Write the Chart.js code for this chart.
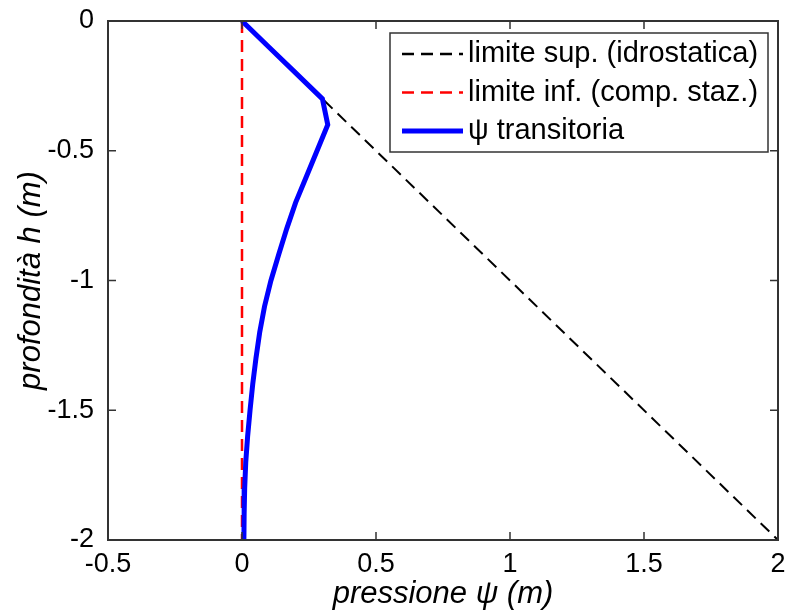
<!DOCTYPE html>
<html>
<head>
<meta charset="utf-8">
<script src="https://cdn.jsdelivr.net/npm/chart.js@4/dist/chart.umd.min.js"></script>
<style>
  html, body { margin: 0; padding: 0; background: #fff; }
  #wrap { width: 787px; height: 612px; }
</style>
</head>
<body>
<div id="wrap"><canvas id="profileChart"></canvas></div>
<script>
// pressure profile vs depth
const depth = [0, -0.1, -0.2, -0.3, -0.4, -0.5, -0.6, -0.7, -0.8, -0.9, -1.0,
               -1.1, -1.2, -1.3, -1.4, -1.5, -1.6, -1.7, -1.8, -1.9, -2.0];
const psiTransient = [0, 0.10, 0.20, 0.30, 0.32, 0.28, 0.24, 0.20, 0.167, 0.137, 0.108,
                      0.084, 0.066, 0.052, 0.040, 0.030, 0.021, 0.014, 0.010, 0.008, 0.007];

// hydrostatic upper limit and steady-state lower limit
const hydroDepth = [0, -2];
const hydroPsi = [0, 2];
const steadyDepth = [0, -2];
const steadyPsi = [0, 0];

const xTicks = [-0.5, 0, 0.5, 1, 1.5, 2];
const yTicks = [0, -0.5, -1, -1.5, -2];

const labels = ['limite sup. (idrostatica)', 'limite inf. (comp. staz.)', '\u03c8 transitoria'];

const FONT = '"Liberation Sans", Arial, Helvetica, sans-serif';

function toPoints(xs, ys) {
    return xs.map((x, i) => ({ x: x, y: ys[i] }));
}

// box around the plot area with inward ticks on all four sides
const boxPlugin = {
    id: 'boxPlugin',
    afterDatasetsDraw(chart) {
        const { ctx, chartArea: a, scales } = chart;
        const len = 8;
        ctx.save();
        ctx.strokeStyle = '#333';
        ctx.lineWidth = 1.5;
        ctx.beginPath();
        xTicks.forEach(v => {
            const px = scales.x.getPixelForValue(v);
            ctx.moveTo(px, a.bottom); ctx.lineTo(px, a.bottom - len);
            ctx.moveTo(px, a.top); ctx.lineTo(px, a.top + len);
        });
        yTicks.forEach(v => {
            const py = scales.y.getPixelForValue(v);
            ctx.moveTo(a.left, py); ctx.lineTo(a.left + len, py);
            ctx.moveTo(a.right, py); ctx.lineTo(a.right - len, py);
        });
        ctx.stroke();
        ctx.lineWidth = 2;
        ctx.strokeRect(a.left, a.top, a.right - a.left, a.bottom - a.top);
        ctx.restore();
    }
};

// legend drawn inside the top right corner
const legendPlugin = {
    id: 'legendPlugin',
    afterDraw(chart) {
        const { ctx } = chart;
        const box = { x: 390, y: 33, w: 378, h: 119 };
        ctx.save();
        ctx.fillStyle = '#fff';
        ctx.fillRect(box.x, box.y, box.w, box.h);
        ctx.strokeStyle = '#333';
        ctx.lineWidth = 1.5;
        ctx.strokeRect(box.x, box.y, box.w, box.h);
        ctx.font = '29px ' + FONT;
        ctx.textBaseline = 'middle';
        ctx.fillStyle = '#000';
        chart.data.datasets.forEach((ds, i) => {
            const cy = box.y + 21 + i * 38.5;
            ctx.strokeStyle = ds.borderColor;
            ctx.lineWidth = ds.legendWidth;
            ctx.setLineDash(ds.borderDash || []);
            ctx.beginPath();
            ctx.moveTo(402, cy);
            ctx.lineTo(463, cy);
            ctx.stroke();
            ctx.setLineDash([]);
            ctx.fillText(ds.label, 468, cy);
        });
        ctx.restore();
    }
};

// keep tick labels from shrinking the plot area
function noEdgePadding(s) {
    s.paddingLeft = 0;
    s.paddingRight = 0;
    s.paddingTop = 0;
    s.paddingBottom = 0;
}

new Chart(document.getElementById('profileChart'), {
    type: 'scatter',
    data: {
        datasets: [
            {
                label: labels[0],
                data: toPoints(hydroPsi, hydroDepth),
                showLine: true,
                borderColor: '#000',
                borderWidth: 2,
                borderDash: [12, 7],
                legendWidth: 2.5,
                pointRadius: 0,
                order: 3
            },
            {
                label: labels[1],
                data: toPoints(steadyPsi, steadyDepth),
                showLine: true,
                borderColor: '#ff0000',
                borderWidth: 2.5,
                borderDash: [12, 7],
                legendWidth: 2.5,
                pointRadius: 0,
                order: 2
            },
            {
                label: labels[2],
                data: toPoints(psiTransient, depth),
                showLine: true,
                borderColor: '#0000ff',
                borderWidth: 5,
                legendWidth: 5,
                pointRadius: 0,
                order: 1
            }
        ]
    },
    options: {
        responsive: true,
        maintainAspectRatio: false,
        animation: false,
        layout: { padding: { top: 21, right: 9, left: 0, bottom: 0 } },
        plugins: {
            legend: { display: false },
            tooltip: { enabled: false }
        },
        scales: {
            x: {
                type: 'linear',
                min: -0.5,
                max: 2,
                afterFit: s => { s.height = 72; noEdgePadding(s); },
                afterBuildTicks: s => { s.ticks = xTicks.map(v => ({ value: v })); },
                grid: { display: false },
                border: { display: false },
                ticks: {
                    color: '#000',
                    padding: 0,
                    font: { family: FONT, size: 27 },
                    maxRotation: 0,
                    callback: v => String(v)
                },
                title: {
                    display: true,
                    text: 'pressione \u03c8 (m)',
                    color: '#000',
                    padding: { top: 0, bottom: 2 },
                    font: { family: FONT, size: 31, style: 'italic', lineHeight: 1 }
                }
            },
            y: {
                type: 'linear',
                min: -2,
                max: 0,
                afterFit: s => { s.width = 108; noEdgePadding(s); },
                afterBuildTicks: s => { s.ticks = yTicks.map(v => ({ value: v })); },
                grid: { display: false },
                border: { display: false },
                ticks: {
                    color: '#000',
                    padding: 6,
                    font: { family: FONT, size: 27 },
                    callback: v => String(v)
                },
                title: {
                    display: true,
                    text: 'profondità h (m)',
                    color: '#000',
                    padding: { top: 16, bottom: 0 },
                    font: { family: FONT, size: 31, style: 'italic', lineHeight: 1 }
                }
            }
        }
    },
    plugins: [boxPlugin, legendPlugin]
});
</script>
</body>
</html>
